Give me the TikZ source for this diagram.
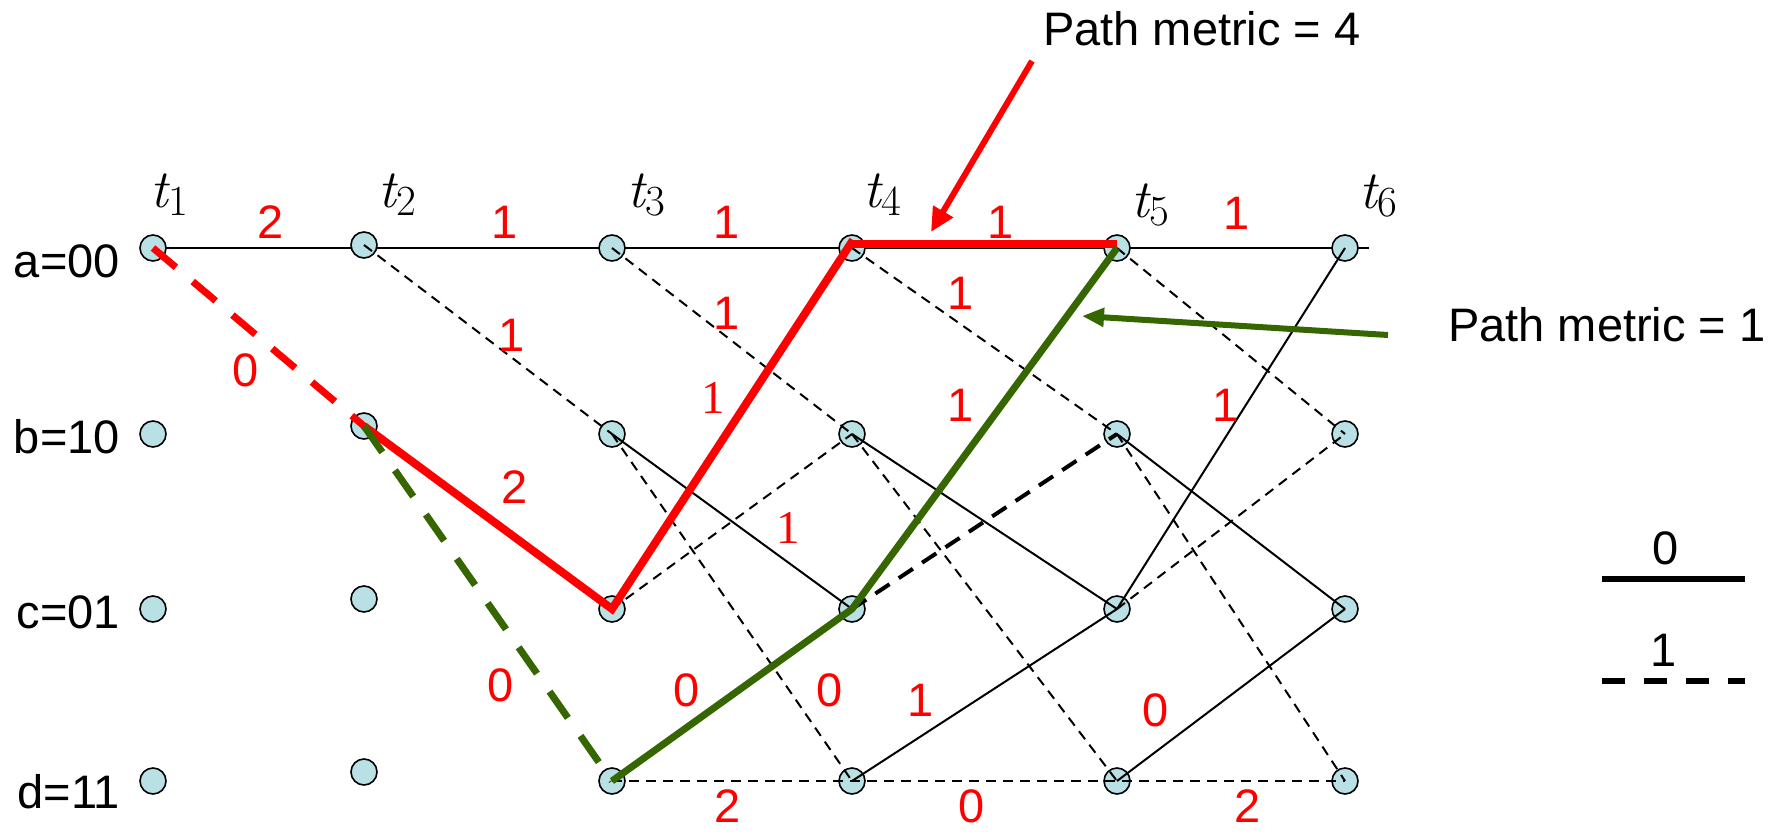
\documentclass[tikz,border=0pt]{standalone}
\usepackage{fontspec}
\newfontfamily\arialf{Liberation Sans}
\newfontfamily\tnrf{Liberation Serif}
\usetikzlibrary{arrows.meta,backgrounds}
\definecolor{nodefill}{RGB}{185,224,228}
\definecolor{pgreen}{RGB}{54,102,0}
\definecolor{pred}{RGB}{255,0,0}
\newcommand{\tsub}[1]{{\fontsize{54}{60}\selectfont\itshape t}\kern1pt\raisebox{-8pt}{\fontsize{43}{43}\selectfont #1}}
\begin{document}
\begin{tikzpicture}[x=1pt,y=-1pt,
  st/.style={circle,draw=black,line width=1.6pt,fill=nodefill,minimum size=26pt,inner sep=0pt},
  zeroedge/.style={line width=2pt,black},
  oneedge/.style={line width=2pt,black,dash pattern=on 10pt off 7pt},
  onethick/.style={line width=4pt,black,dash pattern=on 17pt off 11pt},
  redsolid/.style={line width=8pt,pred},
  reddash/.style={line width=7pt,pred,dash pattern=on 30pt off 22pt},
  greensolid/.style={line width=7pt,pgreen},
  greendash/.style={line width=7pt,pgreen,dash pattern=on 32pt off 22pt},
  lbl/.style={text=pred,font=\arialf\fontsize{47}{50}\selectfont,inner sep=0pt},
  slbl/.style={text=pred,font=\tnrf\fontsize{47}{50}\selectfont,inner sep=0pt},
  txt/.style={text=black,font=\arialf\fontsize{47}{50}\selectfont,inner sep=0pt},
  tlbl/.style={text=black,inner sep=0pt,anchor=base west},
  legline/.style={line width=6pt,black},
  legdash/.style={line width=6pt,black,dash pattern=on 23pt off 19pt}]
\useasboundingbox (0,0) rectangle (1770,833);

% state nodes
\node[st] (a1) at (153,248) {};
\node[st] (b1) at (153,434) {};
\node[st] (c1) at (153,609) {};
\node[st] (d1) at (153,781) {};
\node[st] (a2) at (364,245) {};
\node[st] (b2) at (364,426) {};
\node[st] (c2) at (364,599) {};
\node[st] (d2) at (364,772) {};
\node[st] (a3) at (612,248) {};
\node[st] (b3) at (612,434) {};
\node[st] (c3) at (612,609) {};
\node[st] (d3) at (612,781) {};
\node[st] (a4) at (852,248) {};
\node[st] (b4) at (852,434) {};
\node[st] (c4) at (852,609) {};
\node[st] (d4) at (852,781) {};
\node[st] (a5) at (1117,248) {};
\node[st] (b5) at (1117,434) {};
\node[st] (c5) at (1117,609) {};
\node[st] (d5) at (1117,781) {};
\node[st] (a6) at (1345,248) {};
\node[st] (b6) at (1345,434) {};
\node[st] (c6) at (1345,609) {};
\node[st] (d6) at (1345,781) {};
\coordinate (aend) at (1369,248);

% top row line behind the nodes
\begin{pgfonlayer}{background}
\draw[zeroedge] (a1.center) -- (a3.center) -- (a4.center) -- (a5.center) -- (a6.center) -- (aend);
\end{pgfonlayer}

% state labels
\node[txt,anchor=base east] (la) at (120,277) {a=00};
\node[txt,anchor=base east] (lb) at (120,453) {b=10};
\node[txt,anchor=base east] (lc) at (120,628) {c=01};
\node[txt,anchor=base east] (ld) at (120,808) {d=11};

% time labels
\node[tlbl] (t1) at (150,207) {\tsub{1}};
\node[tlbl] (t2) at (378,207) {\tsub{2}};
\node[tlbl] (t3) at (627,207) {\tsub{3}};
\node[tlbl] (t4) at (863,207) {\tsub{4}};
\node[tlbl] (t5) at (1131,217) {\tsub{5}};
\node[tlbl] (t6) at (1359,208) {\tsub{6}};

% thin branches
\draw[oneedge] (a2.center) -- (b3.center);
\draw[oneedge] (a3.center) -- (b4.center);
\draw[zeroedge] (b3.center) -- (c4.center);
\draw[oneedge] (b3.center) -- (d4.center);
\draw[oneedge] (c3.center) -- (b4.center);
\draw[oneedge] (a4.center) -- (b5.center);
\draw[zeroedge] (b4.center) -- (c5.center);
\draw[oneedge] (b4.center) -- (d5.center);
\draw[zeroedge] (d4.center) -- (c5.center);
\draw[oneedge] (a5.center) -- (b6.center);
\draw[zeroedge] (b5.center) -- (c6.center);
\draw[oneedge] (b5.center) -- (d6.center);
\draw[zeroedge] (c5.center) -- (a6.center);
\draw[oneedge] (c5.center) -- (b6.center);
\draw[zeroedge] (d5.center) -- (c6.center);
\draw[oneedge] (d3.center) -- (d4.center) -- (d5.center) -- (d6.center);
\draw[onethick] (c4.center) -- (b5.center);

% red path (metric 4)
\draw[reddash] (a1.center) -- (b2.center);
\draw[redsolid,line join=miter] (b2.center) -- (c3.center) -- ([xshift=1pt,yshift=8pt]a4.center);
\draw[redsolid] ([yshift=4pt]a4.center) -- ([yshift=4pt]a5.center);

% green path (metric 1)
\draw[greendash] (b2.center) -- (d3.center);
\draw[greensolid,line join=miter] (d3.center) -- (c4.center) -- (a5.center);

% branch metrics
\node[lbl] (m1) at (271,222) {2};
\node[lbl] (m2) at (246,370) {0};
\node[lbl] (m3) at (505,222) {1};
\node[lbl] (m4) at (512,335) {1};
\node[lbl] (m5) at (515,487) {2};
\node[lbl] (m6) at (501,685) {0};
\node[lbl] (m7) at (727,222) {1};
\node[lbl] (m8) at (727,313) {1};
\node[slbl] (m9) at (713,398) {1};
\node[slbl] (m10) at (788,528) {1};
\node[lbl] (m11) at (687,690) {0};
\node[lbl] (m12) at (830,690) {0};
\node[lbl] (m13) at (728,806) {2};
\node[lbl] (m14) at (1001,222) {1};
\node[lbl] (m15) at (961,293) {1};
\node[lbl] (m16) at (961,405) {1};
\node[lbl] (m17) at (921,700) {1};
\node[lbl] (m18) at (972,806) {0};
\node[lbl] (m19) at (1237,213) {1};
\node[lbl] (m20) at (1226,405) {1};
\node[lbl] (m21) at (1156,710) {0};
\node[lbl] (m22) at (1248,806) {2};

% annotations
\node[txt,anchor=base west] (pm4) at (1043,45) {Path metric = 4};
\node[txt,anchor=base west] (pm1) at (1448,341) {Path metric = 1};
\coordinate (ratail) at (1032,61);
\coordinate (ratip) at (931,232);
\draw[pred,line width=6pt,-{Triangle[length=24pt,width=22pt]}] (ratail) -- (ratip);
\coordinate (gatail) at (1388,335);
\coordinate (gatip) at (1082,316);
\draw[pgreen,line width=6pt,-{Triangle[length=22pt,width=18pt]}] (gatail) -- (gatip);

% legend
\node[txt] (lg0) at (1666,548) {0};
\coordinate (lz0) at (1602,579);
\coordinate (lz1) at (1745,579);
\draw[legline] (lz0) -- (lz1);
\node[txt] (lg1) at (1664,650) {1};
\coordinate (lo0) at (1602,681);
\coordinate (lo1) at (1745,681);
\draw[legdash] (lo0) -- (lo1);
\end{tikzpicture}
\end{document}
